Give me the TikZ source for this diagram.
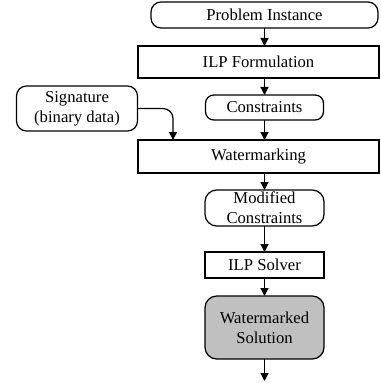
\documentclass[tikz,border=0pt]{standalone}
\usepackage{fontspec}
\setmainfont{Liberation Serif}
\usepackage{xcolor}
\usepackage{tikz}
\usetikzlibrary{positioning,arrows.meta}
\definecolor{solcolor}{RGB}{192,192,192}
\begin{document}
\begin{tikzpicture}[
font=\fontsize{10}{12}\selectfont,
wide/.style={draw,line width=0.75pt,outer sep=0pt,minimum width=144.6pt,minimum height=19.2pt,inner sep=0pt},
small/.style={draw,line width=0.75pt,outer sep=0pt,minimum width=71.4pt,minimum height=15.6pt,inner sep=0pt},
data/.style={draw,line width=0.75pt,outer sep=0pt,rounded corners=6pt,align=center,inner sep=0pt},
arr/.style={-{Triangle[length=4.8pt,width=4.8pt]},line width=0.75pt}]
\useasboundingbox (0,0) rectangle (228pt,-229.8pt);
\node[data,minimum width=136.2pt,minimum height=15.6pt] (pi) at (158.7pt,-9pt) {Problem Instance};
\node[wide,below=10.8pt of pi,xshift=-3.6pt] (ilp) {ILP Formulation};
\node[data,rounded corners=5pt,minimum width=70.8pt,minimum height=15pt,below=10.2pt of ilp,xshift=3.6pt] (cons) {Constraints};
\node[data,minimum width=72.6pt,minimum height=27pt,left=40.8pt of cons,yshift=-0.6pt] (sig) {Signature\\(binary data)};
\node[wide,minimum height=19.8pt,below=12pt of cons,xshift=-3.6pt] (wm) {Watermarking};
\node[data,rounded corners=7pt,minimum width=71.4pt,minimum height=21.6pt,below=10.2pt of wm,xshift=3.6pt] (mod) {Modified\\Constraints};
\node[small,below=15.6pt of mod] (solver) {ILP Solver};
\node[data,rounded corners=7pt,fill=solcolor,minimum width=71.4pt,minimum height=37.8pt,below=10.8pt of solver] (sol) {Watermarked\\Solution};
\coordinate[below=13.2pt of sol] (out);
\coordinate (sigin) at ([xshift=21pt]wm.north west);
\draw[arr] (pi) -- (pi |- ilp.north);
\draw[arr] (cons |- ilp.south) -- (cons);
\draw[arr] (cons) -- (cons |- wm.north);
\draw[arr,rounded corners=6pt] (sig.east) -| (sigin);
\draw[arr] (mod |- wm.south) -- (mod);
\draw[arr] (mod) -- (solver); \draw[arr] (solver) -- (sol); \draw[arr] (sol) -- (out);
\end{tikzpicture}
\end{document}
